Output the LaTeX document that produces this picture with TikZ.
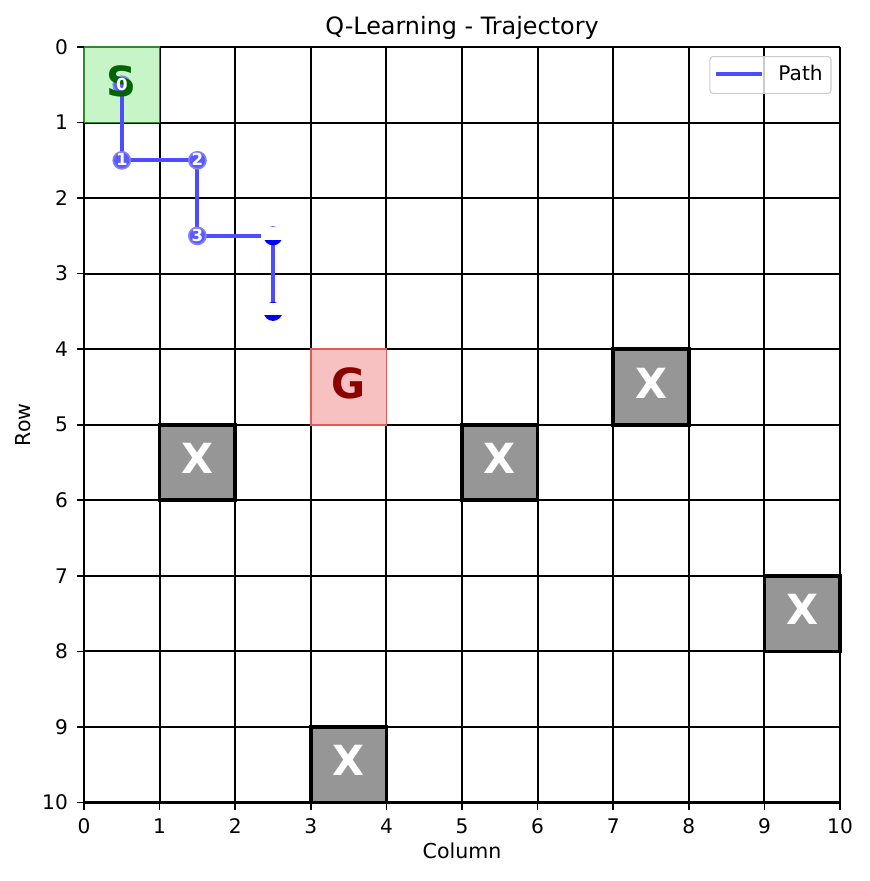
\documentclass[tikz,border=0pt]{standalone}
\usepackage{fontspec}
\setmainfont{DejaVu Sans}
\definecolor{pathblue}{HTML}{4D4DFF}
\definecolor{mfill}{HTML}{5A5AFF}
\definecolor{medge}{HTML}{8080FF}
\definecolor{sfill}{HTML}{C8F5C8}
\definecolor{sedge}{HTML}{2E8B2E}
\definecolor{sdark}{HTML}{006400}
\definecolor{gfill}{HTML}{F7C1C1}
\definecolor{gedge}{HTML}{E05A5A}
\definecolor{gdark}{HTML}{8B0000}
\definecolor{xfill}{HTML}{969696}
\definecolor{legedge}{HTML}{CCCCCC}
\begin{document}
\begin{tikzpicture}[x=36.288bp,y=-36.264bp,
  gridline/.style={line width=1bp, black},
  cellbox/.style={minimum width=36.288bp, minimum height=36.264bp, inner sep=0pt, outer sep=0pt},
  wall/.style={cellbox, draw=black, line width=1.8bp, fill=xfill},
  celltext/.style={font=\fontsize{20}{24}\selectfont\bfseries, inner sep=0pt},
  marker/.style={circle, minimum size=8.2bp, inner sep=0pt, fill=mfill, draw=medge, line width=0.8bp},
  mnum/.style={font=\fontsize{8}{9}\selectfont\bfseries, text=white, inner sep=0pt},
  axtick/.style={line width=0.8bp, black},
  ticklabel/.style={font=\fontsize{9.7}{12}\selectfont, inner sep=0pt},
  trajline/.style={pathblue, line width=2bp, line join=round}]
\useasboundingbox (-1.1111,-0.6221) rectangle (10.3836,11.0390);
% grid
\foreach \i in {0,...,10} {
  \draw[gridline] (\i,0) -- (\i,10);
  \draw[gridline] (0,\i) -- (10,\i);
}
% special cells
\node[cellbox, fill=sfill, draw=sedge, line width=0.8bp] (start) at (0.5,0.5) {};
\node[cellbox, fill=gfill, draw=gedge, line width=0.8bp] (goal) at (3.5,4.5) {};
\node[wall] (w1) at (7.5,4.5) {};
\node[wall] (w2) at (1.5,5.5) {};
\node[wall] (w3) at (5.5,5.5) {};
\node[wall] (w4) at (9.5,7.5) {};
\node[wall] (w5) at (3.5,9.5) {};
% trajectory
\coordinate (p0) at (0.5,0.5);
\coordinate (p1) at (0.5,1.5);
\coordinate (p2) at (1.5,1.5);
\coordinate (p3) at (1.5,2.5);
\coordinate (p4) at (2.5,2.5);
\coordinate (p5) at (2.5,3.5);
\draw[trajline] (p0) -- (p1) -- (p2) -- (p3) -- (p4) -- (p5);
\node[marker] (m0) at (p0) {};
\node[marker] (m1) at (p1) {};
\node[marker] (m2) at (p2) {};
\node[marker] (m3) at (p3) {};
\foreach \p in {p4,p5} {
  \begin{scope}[shift={(\p)}]
    \fill[blue] (0,0) circle (4.56bp);
    \fill[white] (-0.159,-0.1125) rectangle (0.159,0.053);
  \end{scope}
}
% cell labels
\node[celltext, text=sdark] (stext) at (0.5,0.45) {S};
\node[celltext, text=gdark] (gtext) at (3.5,4.447) {G};
\node[celltext, text=white] (x1) at (7.5,4.447) {X};
\node[celltext, text=white] (x2) at (1.5,5.447) {X};
\node[celltext, text=white] (x3) at (5.5,5.447) {X};
\node[celltext, text=white] (x4) at (9.5,7.447) {X};
\node[celltext, text=white] (x5) at (3.5,9.447) {X};
% marker numbers
\node[mnum] (n0) at (0.5,0.49) {0};
\node[mnum] (n1) at (0.5,1.49) {1};
\node[mnum] (n2) at (1.5,1.49) {2};
\node[mnum] (n3) at (1.5,2.49) {3};
% axes ticks and labels
\foreach \i in {0,...,10} {
  \draw[axtick] (\i,10) -- (\i,10.0927);
  \node[ticklabel, anchor=base] (xl\i) at (\i,10.408) {\i};
  \draw[axtick] (0,\i) -- (-0.0926,\i);
  \node[ticklabel, anchor=east] (yl\i) at (-0.208,\i) {\i};
}
\node[font=\fontsize{11.5}{14}\selectfont, anchor=base, inner sep=0pt] (title) at (5,-0.168) {Q-Learning - Trajectory};
\node[font=\fontsize{9.9}{12}\selectfont, anchor=base, inner sep=0pt] (xlab) at (5,10.739) {Column};
\node[font=\fontsize{9.9}{12}\selectfont, anchor=base, inner sep=0pt, rotate=90] (ylab) at (-0.710,5) {Row};
% legend
\filldraw[fill=white, fill opacity=0.8, draw=legedge, line width=0.5bp, rounded corners=1.5bp] (8.280,0.126) rectangle (9.881,0.613);
\coordinate (la) at (8.360,0.352);
\coordinate (lb) at (8.968,0.352);
\draw[trajline] (la) -- (lb);
\node[font=\fontsize{9.7}{12}\selectfont, anchor=base west, inner sep=0pt] (legtext) at (9.180,0.440) {Path};
\end{tikzpicture}
\end{document}
